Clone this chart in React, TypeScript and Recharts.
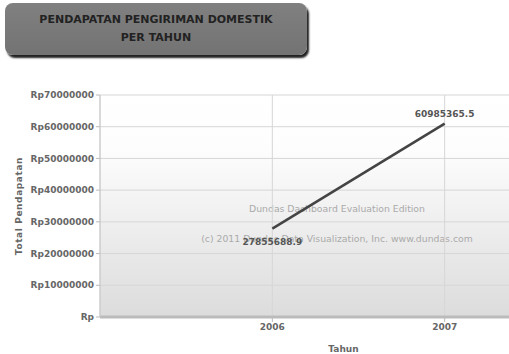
import React from 'react'
import {
  LineChart, Line, XAxis, YAxis, CartesianGrid, LabelList, Label,
} from 'recharts'

const years = [2006, 2007]
const revenue = [27855688.9, 60985365.5]
const yTicks = [0, 10000000, 20000000, 30000000, 40000000, 50000000, 60000000, 70000000]
const xTicks = [2006, 2007]

const data = years.map((year, i) => ({ year, total: revenue[i] }))

const FONT = '"DejaVu Sans", Verdana, sans-serif'

const fmtRp = (v: number) => (v === 0 ? 'Rp' : `Rp${v}`)

// first point label sits below the line, the last one above
// eslint-disable-next-line @typescript-eslint/no-explicit-any
const PointLabel = (props: any) => {
  const { x, y, value, index } = props
  const below = index === 0
  return (
    <text
      x={x}
      y={below ? y + 16 : y - 7}
      textAnchor="middle"
      fontSize={9}
      fontWeight="bold"
      fill="#555"
      fontFamily={FONT}
    >
      {value}
    </text>
  )
}

export default function App() {
  return (
    <div
      style={{
        position: 'absolute', left: 0, top: 0, width: 509, height: 354,
        overflow: 'hidden', background: '#fff', fontFamily: FONT,
      }}
    >
      <div
        style={{
          position: 'absolute', left: 100, top: 95, width: 420, height: 222,
          background: 'linear-gradient(#ffffff 0%, #fdfdfd 25%, #dcdcdc 100%)',
        }}
      />
      <div
        style={{
          position: 'absolute', left: 187, top: 203, width: 300, textAlign: 'center',
          fontSize: 9.3, color: '#aaa', whiteSpace: 'nowrap',
        }}
      >
        Dundas Dashboard Evaluation Edition
      </div>
      <div
        style={{
          position: 'absolute', left: 187, top: 233, width: 300, textAlign: 'center',
          fontSize: 9.3, color: '#aaa', whiteSpace: 'nowrap',
        }}
      >
        (c) 2011 Dundas Data Visualization, Inc. www.dundas.com
      </div>

      <div style={{ position: 'absolute', left: 0, top: 0 }}>
        <LineChart
          width={620}
          height={354}
          data={data}
          margin={{ top: 95, right: 3, left: 0, bottom: 0 }}
        >
          <CartesianGrid stroke="#d6d6d6" />
          <XAxis
            dataKey="year"
            type="number"
            domain={[2005, 2008]}
            ticks={xTicks}
            allowDataOverflow
            height={37}
            tick={{ fontSize: 9, fontWeight: 'bold', fill: '#666', fontFamily: FONT }}
            tickSize={5}
            tickLine={{ stroke: '#bbb' }}
            axisLine={{ stroke: '#bbb', strokeWidth: 3 }}
          >
            <Label
              value="Tahun"
              position="insideBottom"
              offset={2}
              dx={-15}
              fontSize={9}
              fontWeight="bold"
              fill="#666"
              fontFamily={FONT}
            />
          </XAxis>
          <YAxis
            domain={[0, 70000000]}
            ticks={yTicks}
            width={100}
            tickFormatter={fmtRp}
            tick={{ fontSize: 9, fontWeight: 'bold', fill: '#666', fontFamily: FONT }}
            tickSize={4}
            tickLine={{ stroke: '#bbb' }}
            axisLine={{ stroke: '#c8c8c8' }}
          >
            <Label
              // eslint-disable-next-line @typescript-eslint/no-explicit-any
              content={(p: any) => {
                const cy = p.viewBox.y + p.viewBox.height / 2
                return (
                  <text
                    x={22}
                    y={cy}
                    transform={`rotate(-90 22 ${cy})`}
                    textAnchor="middle"
                    fontSize={9}
                    fontWeight="bold"
                    fill="#666"
                    fontFamily={FONT}
                    letterSpacing={0.6}
                  >
                    Total Pendapatan
                  </text>
                )
              }}
            />
          </YAxis>
          <Line
            dataKey="total"
            stroke="#444"
            strokeWidth={2.5}
            dot={false}
            isAnimationActive={false}
          >
            <LabelList dataKey="total" content={PointLabel} />
          </Line>
        </LineChart>
      </div>

      <div
        style={{
          position: 'absolute', left: 5, top: 3, width: 302, height: 52,
          borderRadius: 8, background: 'linear-gradient(#808080, #737373)',
          boxShadow: '2px 3px 2px #222', color: '#222', fontSize: 11,
          fontWeight: 'bold', textAlign: 'center', lineHeight: '18px',
          paddingTop: 8, boxSizing: 'border-box',
        }}
      >
        PENDAPATAN PENGIRIMAN DOMESTIK
        <br />
        PER TAHUN
      </div>
    </div>
  )
}
